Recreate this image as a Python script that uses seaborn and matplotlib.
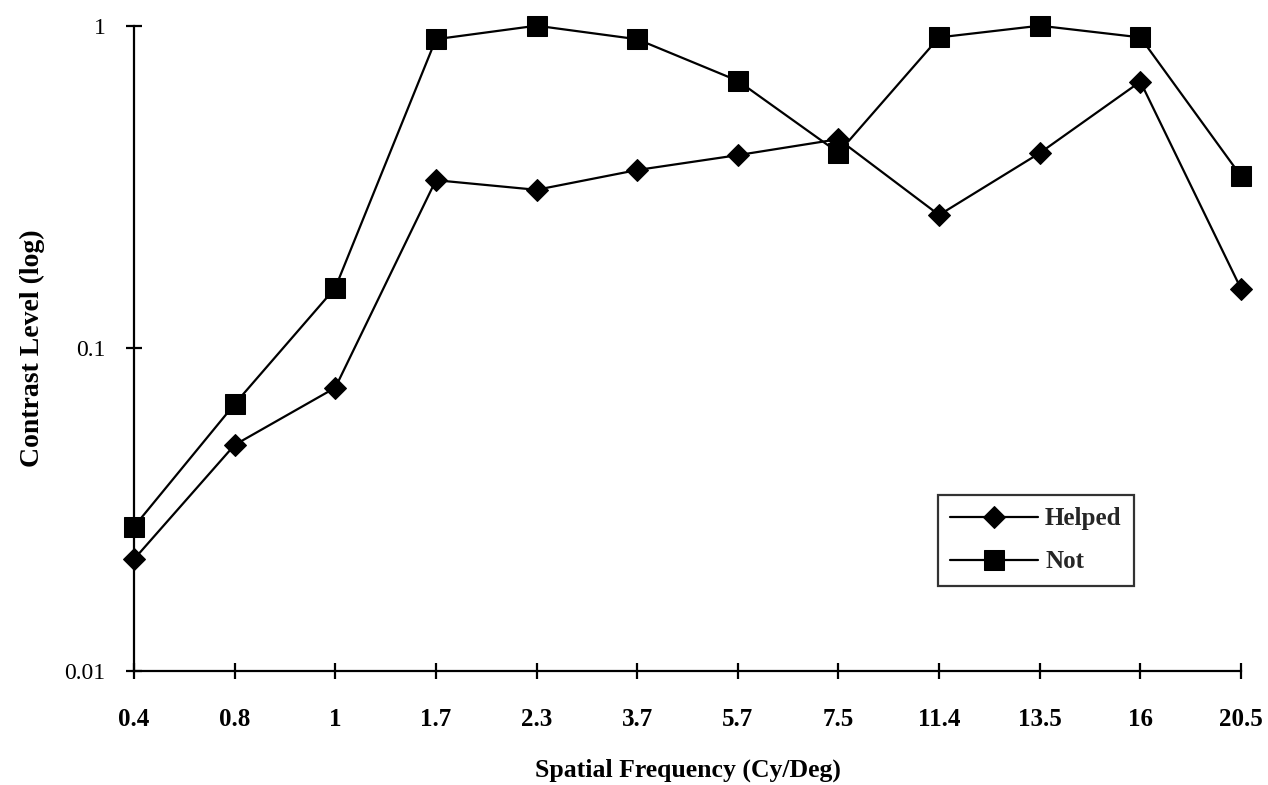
import matplotlib
matplotlib.use("Agg")
import matplotlib.pyplot as plt
import matplotlib.ticker as mticker
import seaborn as sns
import pandas as pd
import numpy as np

# ---- data ----
freq_labels = ["0.4", "0.8", "1", "1.7", "2.3", "3.7", "5.7", "7.5", "11.4", "13.5", "16", "20.5"]
helped = [0.0222, 0.0502, 0.0755, 0.332, 0.31, 0.357, 0.397, 0.445, 0.259, 0.403, 0.671, 0.153]
not_helped = [0.028, 0.0672, 0.154, 0.908, 1.0, 0.908, 0.675, 0.404, 0.92, 1.0, 0.92, 0.342]
series_names = ["Helped", "Not"]
y_ticks = [0.01, 0.1, 1]
y_tick_labels = ["0.01", "0.1", "1"]

sns.set_theme(style="white")
plt.rcParams["font.family"] = ["Liberation Serif", "DejaVu Serif"]

fig = plt.figure(figsize=(12.68, 7.85), dpi=100)
ax = fig.add_axes([134 / 1268, 1 - 671 / 785, (1241 - 134) / 1268, (671 - 25.7) / 785])

df_h = pd.DataFrame({"freq": freq_labels, "val": helped})
df_n = pd.DataFrame({"freq": freq_labels, "val": not_helped})

sns.lineplot(data=df_h, x="freq", y="val", ax=ax, color="black", marker="D",
             markersize=11.5, linewidth=1.6, markeredgecolor="black",
             label=series_names[0], sort=False, clip_on=False, zorder=3)
sns.lineplot(data=df_n, x="freq", y="val", ax=ax, color="black", marker="s",
             markersize=14, linewidth=1.6, markeredgecolor="black",
             label=series_names[1], sort=False, clip_on=False, zorder=3)

ax.set_yscale("log")
ax.set_ylim(0.01, 1)
ax.set_xlim(0, len(freq_labels) - 1)
ax.yaxis.set_major_locator(mticker.FixedLocator(y_ticks))
ax.yaxis.set_minor_locator(mticker.NullLocator())
ax.set_yticklabels(y_tick_labels)

for s in ["top", "right"]:
    ax.spines[s].set_visible(False)
for s in ["left", "bottom"]:
    ax.spines[s].set_color("black")
    ax.spines[s].set_linewidth(1.6)

ax.tick_params(axis="both", which="major", direction="inout", length=11, width=1.6,
               color="black", left=True, bottom=True)
ax.tick_params(axis="y", labelsize=17, pad=15, labelcolor="black")
ax.tick_params(axis="x", labelsize=18, pad=21, labelcolor="black")
for lbl in ax.get_xticklabels():
    lbl.set_fontweight("bold")

ax.set_xlabel("Spatial Frequency (Cy/Deg)", fontsize=18.5, fontweight="bold", color="black")
ax.set_ylabel("Contrast Level (log)", fontsize=20, fontweight="bold", color="black")
ax.xaxis.set_label_coords(0.5, -0.135)
ax.yaxis.set_label_coords(-0.080, 0.5)

leg = ax.legend(loc="upper left", bbox_to_anchor=(938 / 1268, 1 - 495 / 785),
                bbox_transform=fig.transFigure, frameon=True, fancybox=False,
                prop={"weight": "bold", "size": 18}, handlelength=3.5,
                borderpad=0.5, labelspacing=0.8, handletextpad=0.28, borderaxespad=0)
leg.get_frame().set_edgecolor("black")
leg.get_frame().set_linewidth(1.6)
leg.get_frame().set_facecolor("white")

fig.savefig("out.png", dpi=100, facecolor="white")
